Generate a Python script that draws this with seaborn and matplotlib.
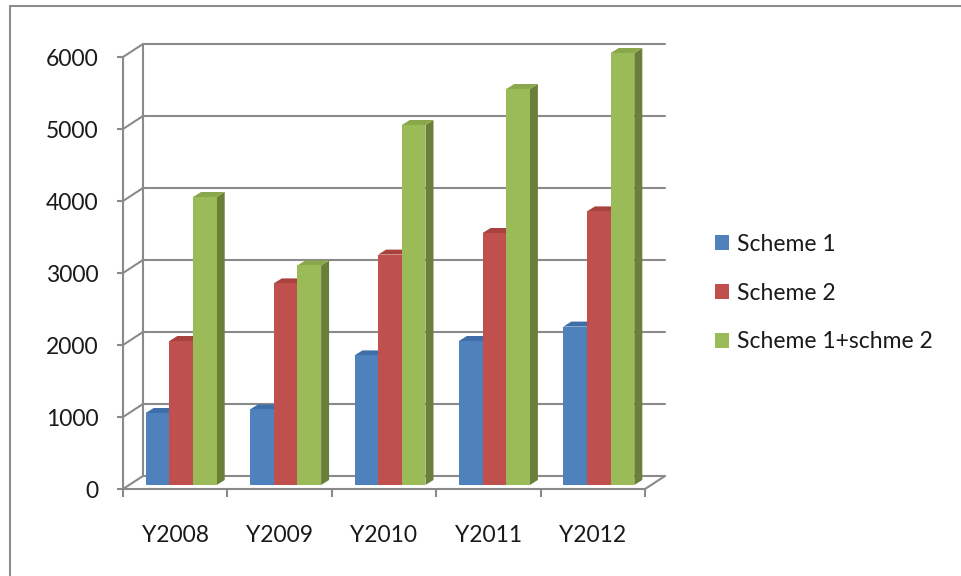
import numpy as np
import pandas as pd
import matplotlib
matplotlib.use("Agg")
import matplotlib.pyplot as plt
from matplotlib.patches import Polygon
from matplotlib.lines import Line2D
import seaborn as sns

# ---- data -------------------------------------------------------------
years = ["Y2008", "Y2009", "Y2010", "Y2011", "Y2012"]
series = ["Scheme 1", "Scheme 2", "Scheme 1+schme 2"]
scheme1 = [1000, 1050, 1800, 2000, 2200]
scheme2 = [2000, 2800, 3200, 3500, 3800]
combined = [4000, 3050, 5000, 5500, 6000]
y_ticks = [0, 1000, 2000, 3000, 4000, 5000, 6000]

df = pd.DataFrame({
    "year": years * 3,
    "series": [series[0]] * 5 + [series[1]] * 5 + [series[2]] * 5,
    "value": scheme1 + scheme2 + combined,
})

# ---- styling ----------------------------------------------------------
sns.set_style("white")
plt.rcParams["font.family"] = ["Lato", "DejaVu Sans"]

front_cols = ["#4F81BD", "#C0504D", "#9BBB59"]
top_cols = ["#3F6DA8", "#A8423F", "#89A84C"]
side_cols = ["#385D8A", "#8C3836", "#6A7F3A"]
grid_col = "#8A8A8A"
text_col = "#1A1A1A"
FS = 16.5

W, H, DPI = 962, 576, 100
fig = plt.figure(figsize=(W / DPI, H / DPI), dpi=DPI)
ax = fig.add_axes([123 / W, 87 / H, 522 / W, 432 / H])

sns.barplot(data=df, x="year", y="value", hue="series", hue_order=series,
            palette=front_cols, width=0.68, gap=0, saturation=1,
            edgecolor="none", linewidth=0, ax=ax, zorder=3)

ax.set_xlim(-0.5, 4.5)
ax.set_ylim(0, 6000)

# pixel -> data conversion for the oblique depth
px_x = (4.5 - (-0.5)) / 522.0
px_y = 6000.0 / 432.0


def depth(dx_px, dy_px):
    return dx_px * px_x, dy_px * px_y


# full floor depth and the bar plane inside it
Dx, Dy = depth(20, 13)
bx, by = depth(6, 4)
tx, ty = depth(8, 5)

# ---- walls and grid ---------------------------------------------------
lw = 1.5
x0, x1 = -0.5, 4.5
for v in y_ticks:
    ax.add_line(Line2D([x0, x0 + Dx], [v, v + Dy], color=grid_col, lw=lw,
                       clip_on=False, zorder=1))
    ax.add_line(Line2D([x0 + Dx, x1 + Dx], [v + Dy, v + Dy], color=grid_col,
                       lw=lw, clip_on=False, zorder=1))
ax.add_line(Line2D([x0 + Dx, x0 + Dx], [Dy, 6000 + Dy], color=grid_col,
                   lw=lw, clip_on=False, zorder=1))
ax.add_line(Line2D([x1, x1 + Dx], [0, Dy], color=grid_col, lw=lw,
                   clip_on=False, zorder=1))

# ---- 3D bar faces -----------------------------------------------------
bars = [p for p in ax.patches if p.get_height() > 0]
n = len(years)
for i, p in enumerate(bars):
    s = i // n
    p.set_x(p.get_x() + bx)
    p.set_y(p.get_y() + by)
    p.set_clip_on(False)
    xl = p.get_x()
    xr = xl + p.get_width()
    yb = p.get_y()
    yt = yb + p.get_height()
    z = 3 + (i % n) * 0.01 + s * 0.1
    p.set_zorder(z + 0.002)
    side = Polygon([(xr, yb), (xr + tx, yb + ty), (xr + tx, yt + ty), (xr, yt)],
                   closed=True, facecolor=side_cols[s], edgecolor="none",
                   clip_on=False, zorder=z)
    top = Polygon([(xl, yt), (xr, yt), (xr + tx, yt + ty), (xl + tx, yt + ty)],
                  closed=True, facecolor=top_cols[s], edgecolor="none",
                  clip_on=False, zorder=z + 0.001)
    ax.add_patch(side)
    ax.add_patch(top)

# ---- axes, ticks, labels ----------------------------------------------
for sp in ["top", "right"]:
    ax.spines[sp].set_visible(False)
for sp in ["left", "bottom"]:
    ax.spines[sp].set_color(grid_col)
    ax.spines[sp].set_linewidth(lw)
    ax.spines[sp].set_zorder(2)

ax.set_yticks(y_ticks)
ax.set_yticklabels([str(v) for v in y_ticks], fontsize=FS, color=text_col)
ax.tick_params(axis="y", direction="out", length=4.3, width=lw,
               color=grid_col, pad=13.5, left=True)

ax.set_xticks(range(len(years)))
ax.set_xticklabels(years, fontsize=FS, color=text_col)
ax.set_xticks(np.arange(-0.5, 5.0, 1.0), minor=True)
ax.tick_params(axis="x", which="major", length=0, pad=26)
ax.tick_params(axis="x", which="minor", direction="out", length=5.8,
               width=lw, color=grid_col, bottom=True)
ax.set_xlabel("")
ax.set_ylabel("")
ax.grid(False)

# ---- legend -----------------------------------------------------------
sns.move_legend(ax, loc="center left",
                bbox_to_anchor=(715 / W, 283 / H),
                bbox_transform=fig.transFigure,
                frameon=False, title=None, fontsize=FS,
                handlelength=0.6, handleheight=0.6, handletextpad=0.35,
                labelspacing=1.22, borderpad=0, borderaxespad=0)
for t in ax.get_legend().get_texts():
    t.set_color(text_col)

# ---- chart-area frame -------------------------------------------------
fig.add_artist(Line2D([10 / W, 1.0], [570 / H, 570 / H], color="#8C8C8C",
                      lw=1.5, transform=fig.transFigure))
fig.add_artist(Line2D([10 / W, 10 / W], [0, 570 / H], color="#8C8C8C",
                      lw=1.5, transform=fig.transFigure))

fig.savefig("out.png", dpi=DPI)
